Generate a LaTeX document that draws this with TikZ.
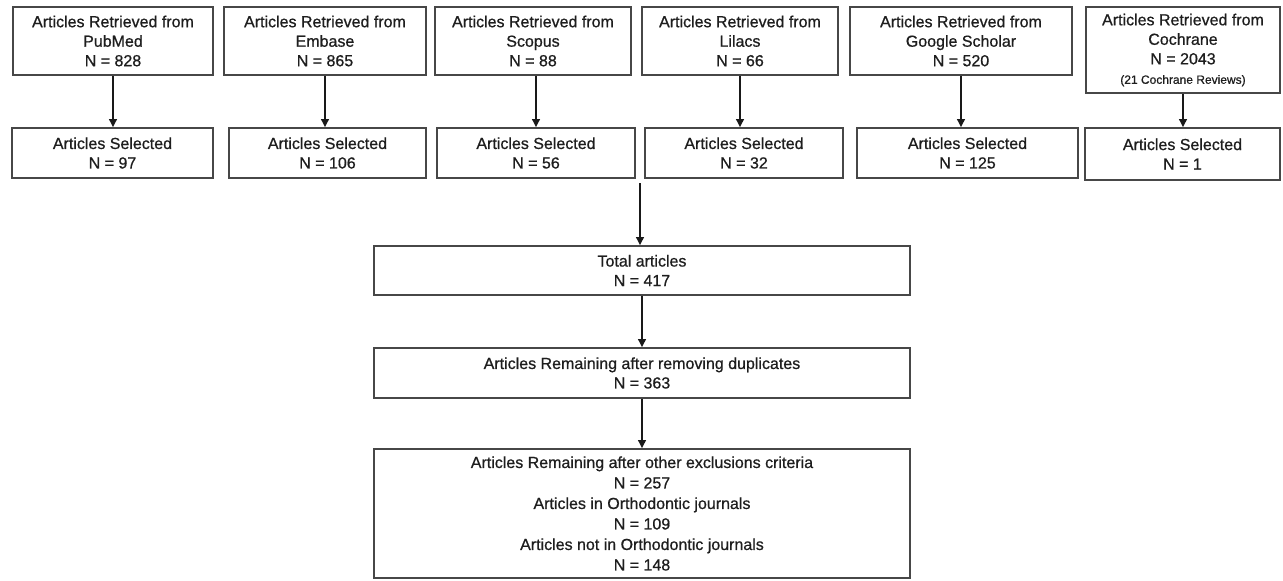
\documentclass[tikz,border=0pt]{standalone}
\usepackage{fontspec}
\setmainfont[FakeBold=0.7]{Liberation Sans}
\usetikzlibrary{arrows.meta,calc}
\definecolor{boxgray}{HTML}{474747}
\definecolor{txt}{HTML}{1E1E1E}
\begin{document}
\begin{tikzpicture}[x=1pt,y=-1pt,
  bx/.style={draw=boxgray, line width=1.6pt, fill=white, inner sep=0pt, align=center,
    text=txt, font=\fontsize{16}{19.5}\selectfont},
  arr/.style={draw=black!90, line width=2pt, -{Triangle[width=7.5pt,length=8pt]}}]
\useasboundingbox (0,0) rectangle (1283,581);
% row 1
\node[bx, minimum width=200pt, minimum height=68pt] (p1) at (113,41) {Articles Retrieved from\\PubMed\\N = 828};
\node[bx, minimum width=202pt, minimum height=68pt] (e1) at (325,41) {Articles Retrieved from\\Embase\\N = 865};
\node[bx, minimum width=196pt, minimum height=68pt] (s1) at (533,41) {Articles Retrieved from\\Scopus\\N = 88};
\node[bx, minimum width=196pt, minimum height=68pt] (l1) at (740,41) {Articles Retrieved from\\Lilacs\\N = 66};
\node[bx, minimum width=222pt, minimum height=68pt] (g1) at (961,41) {Articles Retrieved from\\Google Scholar\\N = 520};
\node[bx, minimum width=194pt, minimum height=86pt] (c1) at (1183,50) {Articles Retrieved from\\Cochrane\\N = 2043\\[0pt]{\fontsize{12}{14}\selectfont (21 Cochrane Reviews)}};
% row 2
\node[bx, minimum width=201pt, minimum height=50pt] (p2) at (112.5,153) {Articles Selected\\N = 97};
\node[bx, minimum width=197pt, minimum height=50pt] (e2) at (327.5,153) {Articles Selected\\N = 106};
\node[bx, minimum width=198pt, minimum height=50pt] (s2) at (536,153) {Articles Selected\\N = 56};
\node[bx, minimum width=198pt, minimum height=50pt] (l2) at (744,153) {Articles Selected\\N = 32};
\node[bx, minimum width=221pt, minimum height=50pt] (g2) at (967.5,153) {Articles Selected\\N = 125};
\node[bx, minimum width=195pt, minimum height=52pt] (c2) at (1182.5,154) {Articles Selected\\N = 1};
% central column
\node[bx, minimum width=536pt, minimum height=49pt] (tot) at (642,270.5) {Total articles\\N = 417};
\node[bx, minimum width=536pt, minimum height=50pt] (dup) at (642,373) {Articles Remaining after removing duplicates\\N = 363};
\node[bx, minimum width=536pt, minimum height=129pt, font=\fontsize{16}{20.5}\selectfont] (fin) at (642,513.5) {Articles Remaining after other exclusions criteria\\N = 257\\Articles in Orthodontic journals\\N = 109\\Articles not in Orthodontic journals\\N = 148};
\coordinate (merge) at (640,183);
% arrows
\draw[arr] (p1.south) -- (p1.south |- p2.north);
\draw[arr] (e1.south) -- (e1.south |- e2.north);
\draw[arr] (s1.south -| s2.north) -- (s2.north);
\draw[arr] (l1.south) -- (l1.south |- l2.north);
\draw[arr] (g1.south) -- (g1.south |- g2.north);
\draw[arr] (c1.south) -- (c1.south |- c2.north);
\draw[arr] (merge) -- (merge |- tot.north);
\draw[arr] (tot.south) -- (dup.north);
\draw[arr] (dup.south) -- (fin.north);
\end{tikzpicture}
\end{document}
